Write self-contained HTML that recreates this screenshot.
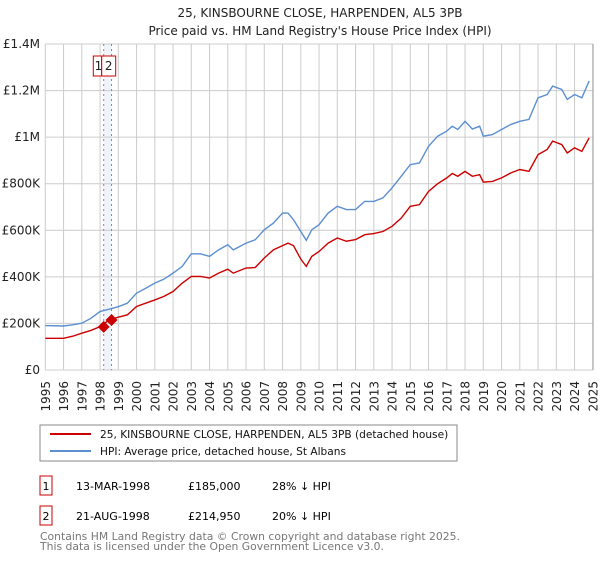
<!DOCTYPE html>
<html><head><meta charset="utf-8"><style>
body{margin:0;background:#fff;font-family:"Liberation Sans","DejaVu Sans",sans-serif;}
svg text{font-family:"DejaVu Sans","Liberation Sans",sans-serif;}
</style></head><body>
<svg id="c" width="600" height="560" viewBox="0 0 600 560" xmlns="http://www.w3.org/2000/svg">
<text x="320" y="17" font-size="12" text-anchor="middle" fill="#222">25, KINSBOURNE CLOSE, HARPENDEN, AL5 3PB</text>
<text x="320" y="35" font-size="12" text-anchor="middle" fill="#222">Price paid vs. HM Land Registry's House Price Index (HPI)</text>
<g id="grid"></g><g id="marks"></g><g id="axes"></g>
<rect x="40" y="425" width="417" height="36" fill="#fff" stroke="#888"/>
<line x1="50" y1="434" x2="91" y2="434" stroke="#cc0000" stroke-width="2"/>
<text x="100" y="438" font-size="10.6" fill="#111">25, KINSBOURNE CLOSE, HARPENDEN, AL5 3PB (detached house)</text>
<line x1="50" y1="451" x2="91" y2="451" stroke="#5b8fd0" stroke-width="2"/>
<text x="100" y="455" font-size="10.6" fill="#111">HPI: Average price, detached house, St Albans</text>
<rect x="40" y="476" width="12" height="19" fill="none" stroke="#cc0000"/>
<text x="46" y="490" font-size="11" text-anchor="middle">1</text>
<text x="76" y="490" font-size="11">13-MAR-1998</text>
<text x="188" y="490" font-size="11">£185,000</text>
<text x="272" y="490" font-size="11">28% ↓ HPI</text>
<rect x="40" y="506" width="12" height="19" fill="none" stroke="#cc0000"/>
<text x="46" y="520" font-size="11" text-anchor="middle">2</text>
<text x="76" y="520" font-size="11">21-AUG-1998</text>
<text x="188" y="520" font-size="11">£214,950</text>
<text x="272" y="520" font-size="11">20% ↓ HPI</text>
<text x="40" y="540" font-size="10.8" fill="#777">Contains HM Land Registry data © Crown copyright and database right 2025.</text>
<text x="40" y="550" font-size="10.8" fill="#777">This data is licensed under the Open Government Licence v3.0.</text>
</svg>
<script>
const years=[1995,1996,1996.5,1997,1997.5,1998,1998.5,1999,1999.5,2000,2000.5,2001,2001.5,2002,2002.5,2003,2003.5,2004,2004.5,2005,2005.3,2006,2006.5,2007,2007.5,2008,2008.3,2008.6,2009,2009.3,2009.6,2010,2010.5,2011,2011.5,2012,2012.5,2013,2013.5,2014,2014.5,2015,2015.5,2016,2016.5,2017,2017.3,2017.6,2018,2018.4,2018.8,2019,2019.5,2020,2020.5,2021,2021.5,2022,2022.5,2022.8,2023.3,2023.6,2024,2024.4,2024.8];
const hpi=[191,189,194,201,222,251,261,272,287,330,351,373,390,416,445,499,499,488,516,538,516,545,559,602,631,674,674,645,595,557,602,624,674,703,689,689,724,724,739,782,832,882,889,961,1004,1026,1047,1033,1068,1035,1047,1004,1011,1033,1054,1068,1076,1169,1183,1219,1205,1162,1183,1169,1241];
const price=[136,136,145,158,170,186,215,227,237,273,287,301,316,337,373,402,402,395,416,433,416,438,440,481,516,534,545,534,476,445,488,509,545,567,553,560,581,586,595,617,652,703,710,767,800,825,844,832,853,832,839,807,810,825,846,861,853,925,947,983,968,932,954,939,997];
const saleYears=[1998.2,1998.63];
const salePrices=[185,214.95];
const saleLabels=["1","2"];
const yTicks=[0,200,400,600,800,1000,1200,1400];
const yTickLabels=["£0","£200K","£400K","£600K","£800K","£1M","£1.2M","£1.4M"];
const xTicks=[1995,1996,1997,1998,1999,2000,2001,2002,2003,2004,2005,2006,2007,2008,2009,2010,2011,2012,2013,2014,2015,2016,2017,2018,2019,2020,2021,2022,2023,2024,2025];
const X=y=>45.3+(y-1995)*18.25, Y=v=>370-v/1400*326;
const NS="http://www.w3.org/2000/svg";
function mk(p,t,a){const e=document.createElementNS(NS,t);for(const k in a)e.setAttribute(k,a[k]);p.appendChild(e);return e;}
const G=document.getElementById('grid'),M=document.getElementById('marks'),A=document.getElementById('axes');
const R=593;
const band=mk(G,'rect',{x:X(saleYears[0]),y:44,width:X(saleYears[1])-X(saleYears[0]),height:326,fill:'#eef4fc'});


yTicks.forEach((v,i)=>{
  const l=mk(G,'line',{x1:45,x2:R,y1:Y(v),y2:Y(v),stroke:'#ccc'});
  
  
  const t=mk(A,'text',{x:40,y:Y(v)+4,'font-size':12,'text-anchor':'end',fill:'#222'});t.textContent=yTickLabels[i];
  
  
});
xTicks.forEach(yr=>{
  const x=Math.min(X(yr),R);
  const l=mk(G,'line',{x1:x,x2:x,y1:44,y2:370,stroke:'#ccc'});
  
  
  const t=mk(A,'text',{x:0,y:0,'font-size':12,'text-anchor':'end',fill:'#222',transform:`translate(${X(yr)+4.5},381) rotate(-90)`});t.textContent=yr;
  
  
});
const ax=mk(A,'line',{x1:R,x2:R,y1:44,y2:370,stroke:'#999'});


saleYears.forEach((s,i)=>{
  const l=mk(M,'line',{x1:X(s),x2:X(s),y1:44,y2:370,stroke:'#e06070','stroke-dasharray':'2,3'});
  
  
});
const pl=(d,c,n)=>{const p=mk(M,'polyline',{points:years.map((y,i)=>X(y)+','+Y(d[i])).join(' '),fill:'none',stroke:c,'stroke-width':1.4});
  
  };
pl(hpi,'#5b8fd0','hpi-line');
pl(price,'#cc0000','price-paid-line');
saleYears.forEach((s,i)=>{
  const x=X(s),y=Y(salePrices[i]);
  const d=mk(M,'polygon',{points:`${x},${y-6} ${x+6},${y} ${x},${y+6} ${x-6},${y}`,fill:'#cc0000'});
  
  
});
const bx=[[93.3,8.4],[101.7,14]];
saleLabels.forEach((s,i)=>{
  const r=mk(M,'rect',{x:bx[i][0],y:56,width:bx[i][1],height:20,fill:'#fff',stroke:'#cc0000'});
  
  
  const t=mk(M,'text',{x:bx[i][0]+bx[i][1]/2+(i?0:1),y:70,'font-size':12,'text-anchor':'middle',fill:'#222'});t.textContent=s;
  
  
});
</script>
</body></html>
